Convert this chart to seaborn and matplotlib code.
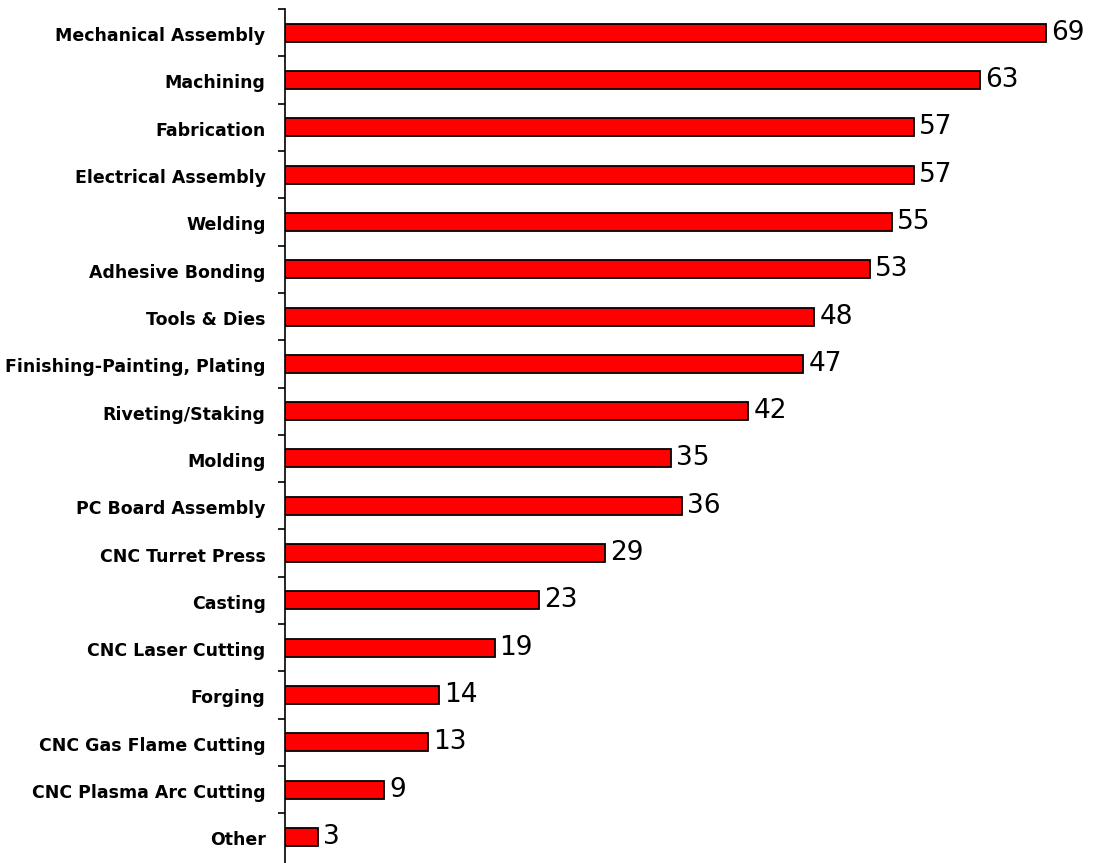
import matplotlib
matplotlib.use("Agg")
import matplotlib.pyplot as plt
import seaborn as sns
import pandas as pd

categories = ["Mechanical Assembly", "Machining", "Fabrication", "Electrical Assembly",
              "Welding", "Adhesive Bonding", "Tools & Dies", "Finishing-Painting, Plating",
              "Riveting/Staking", "Molding", "PC Board Assembly", "CNC Turret Press",
              "Casting", "CNC Laser Cutting", "Forging", "CNC Gas Flame Cutting",
              "CNC Plasma Arc Cutting", "Other"]
values = [69, 63, 57, 57, 55, 53, 48, 47, 42, 35, 36, 29, 23, 19, 14, 13, 9, 3]

df = pd.DataFrame({"category": categories, "value": values})

sns.set_style("white")
plt.rcParams['font.family'] = ['DejaVu Sans']

fig = plt.figure(figsize=(10.94, 8.63), dpi=100)
ax = fig.add_axes([285/1094, 0.0, 1 - 285/1094, 1 - 9/863])

sns.barplot(data=df, x="value", y="category", orient="h", color="#FF0000",
            saturation=1, width=0.38, edgecolor="black", linewidth=1.3, ax=ax)

for i, v in enumerate(values):
    ax.text(v + 0.45, i, str(v), va="center", ha="left", fontsize=19,
            color="black")

ax.set_xlim(0, (1094 - 285) / 11.03)
ax.set_ylim(17.55, -0.5)
ax.set_xlabel("")
ax.set_ylabel("")
ax.set_xticks([])

ax.set_yticks([i - 0.5 for i in range(18)], minor=False)
ax.set_yticklabels([])
ax.set_yticks([i + 0.03 for i in range(18)], minor=True)
ax.set_yticklabels(categories, minor=True, fontsize=12.5, fontweight="bold", color="black")
ax.tick_params(axis="y", which="major", length=5, width=1.2, color="black", left=True)
ax.tick_params(axis="y", which="minor", length=0, pad=14)

for s in ["top", "right", "bottom"]:
    ax.spines[s].set_visible(False)
ax.spines["left"].set_color("black")
ax.spines["left"].set_linewidth(1.2)

fig.savefig("out.png", dpi=100)
